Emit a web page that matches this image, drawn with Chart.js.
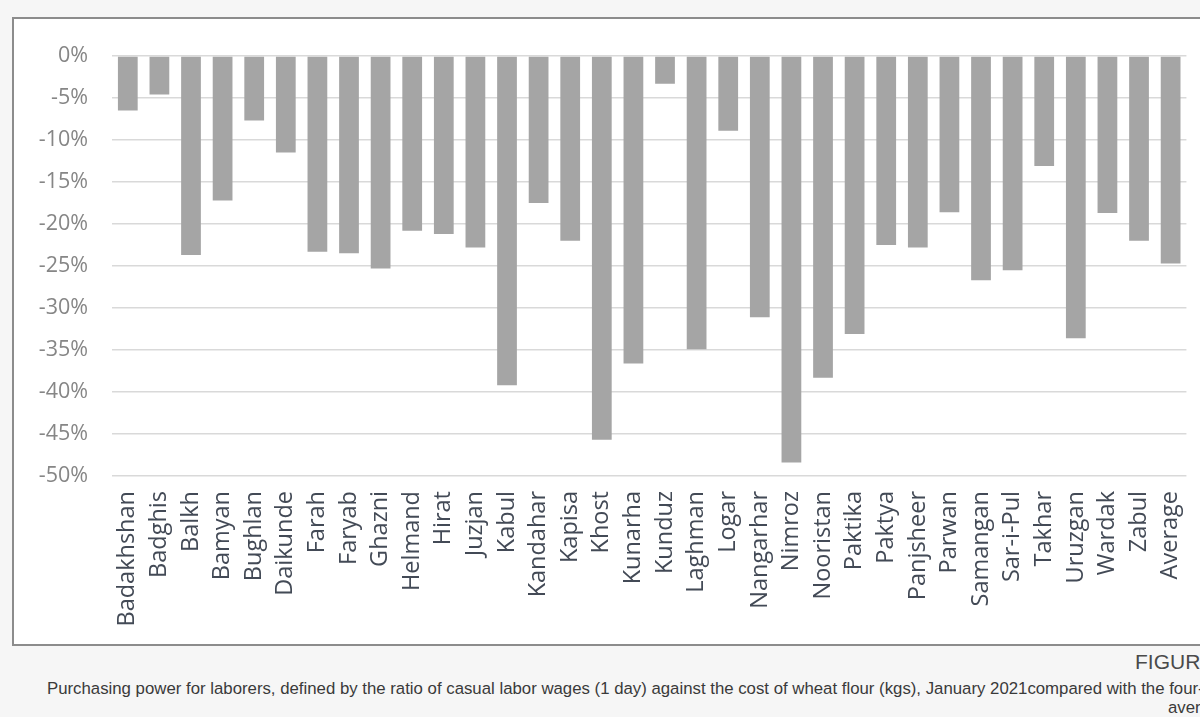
<!DOCTYPE html>
<html>
<head>
<meta charset="utf-8">
<script src="https://cdn.jsdelivr.net/npm/chart.js@4.4.1/dist/chart.umd.min.js"></script>
<style>
  html, body { margin: 0; padding: 0; }
  body {
    width: 1200px; height: 717px; overflow: hidden; position: relative;
    background: #f6f6f6;
  }
  #frame {
    position: absolute; left: 12px; top: 17px; width: 1300px; height: 625px;
    background: #ffffff; border: 2px solid #8c8c8c;
  }
  #wrap {
    position: absolute; left: 14px; top: 19px; width: 1200px; height: 624px;
  }
  .fig {
    position: absolute; left: 1135px; top: 650px;
    font-family: "Liberation Sans", Arial, sans-serif; font-size: 21px;
    color: #4a4a4a; white-space: nowrap;
  }
  .cap {
    position: absolute; font-family: "Liberation Sans", Arial, sans-serif;
    font-size: 16.8px; color: #3a3a3a; white-space: nowrap;
  }
</style>
</head>
<body>
<div id="frame"></div>
<div id="wrap"><canvas id="chart" width="1200" height="624"></canvas></div>
<div class="fig">FIGURE</div>
<div class="cap" style="left:47px; top:679px;">Purchasing power for laborers, defined by the ratio of casual labor wages (1 day) against the cost of wheat flour (kgs), January 2021compared with the four-</div>
<div class="cap" style="left:1168px; top:698px;">average</div>
<script>
// Provinces, with the national average as the last column
const provinces = [
  'Badakhshan', 'Badghis', 'Balkh', 'Bamyan', 'Bughlan', 'Daikunde', 'Farah',
  'Faryab', 'Ghazni', 'Helmand', 'Hirat', 'Juzjan', 'Kabul', 'Kandahar',
  'Kapisa', 'Khost', 'Kunarha', 'Kunduz', 'Laghman', 'Logar', 'Nangarhar',
  'Nimroz', 'Nooristan', 'Paktika', 'Paktya', 'Panjsheer', 'Parwan',
  'Samangan', 'Sar-i-Pul', 'Takhar', 'Uruzgan', 'Wardak', 'Zabul', 'Average'
];

// Change in purchasing power (%), January 2021 vs the four-year average
const changePct = [
  -6.5, -4.6, -23.7, -17.2, -7.7, -11.5, -23.3,
  -23.5, -25.3, -20.8, -21.2, -22.8, -39.2, -17.5,
  -22.0, -45.7, -36.6, -3.3, -34.9, -8.9, -31.1,
  -48.4, -38.3, -33.1, -22.5, -22.8, -18.6,
  -26.7, -25.5, -13.1, -33.6, -18.7, -22.0, -24.7
];

// Value axis ticks
const yMin = -50;
const yMax = 0;
const yStep = 5;

new Chart(document.getElementById('chart'), {
  type: 'bar',
  data: {
    labels: provinces,
    datasets: [{
      data: changePct,
      backgroundColor: '#a5a5a5',
      borderWidth: 0,
      barPercentage: 0.625,
      categoryPercentage: 1.0
    }]
  },
  options: {
    responsive: false,
    animation: false,
    devicePixelRatio: 1,
    layout: { padding: { top: 35, right: 12, bottom: 0, left: 0 } },
    plugins: {
      legend: { display: false },
      tooltip: { enabled: false }
    },
    scales: {
      x: {
        grid: { display: false, drawTicks: false },
        border: { display: false },
        afterFit: (s) => { s.height = 167; },
        ticks: {
          autoSkip: false,
          minRotation: 90,
          maxRotation: 90,
          padding: 15,
          color: '#434a56',
          font: { family: '"Open Sans", sans-serif', size: 23.5 }
        }
      },
      y: {
        min: yMin,
        max: yMax,
        afterFit: (s) => { s.width = 98; },
        grid: { color: '#d9d9d9', lineWidth: 1.5, drawTicks: false },
        border: { display: false },
        ticks: {
          stepSize: yStep,
          padding: 24,
          color: '#868686',
          font: { family: '"Open Sans", sans-serif', size: 21.5 },
          callback: (v) => v + '%'
        }
      }
    }
  }
});
</script>
</body>
</html>
